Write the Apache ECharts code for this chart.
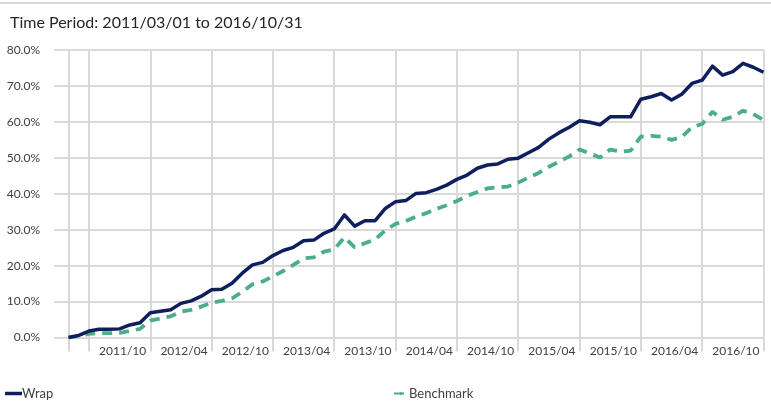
<!DOCTYPE html>
<html>
<head>
<meta charset="utf-8">
<script src="https://cdn.jsdelivr.net/npm/echarts@6/dist/echarts.min.js"></script>
<style>
  html, body { margin: 0; padding: 0; background: #fff; }
  #chart { width: 771px; height: 401px; }
</style>
</head>
<body>
<div id="chart"></div>
<script>
// month-end points, 2011/02 (base) .. 2016/10
const months = [];
for (let y = 2011, m = 2; y < 2016 || (y === 2016 && m <= 10); m++) {
  if (m > 12) { m = 1; y++; }
  if (y === 2016 && m > 10) break;
  months.push(y + '/' + String(m).padStart(2, '0'));
}

const wrap = [
  0.0, 0.6, 1.8, 2.3, 2.3, 2.4, 3.5, 4.1, 6.9, 7.3,
  7.7, 9.5, 10.2, 11.5, 13.3, 13.4, 15.1, 17.9, 20.2, 20.9,
  22.8, 24.2, 25.1, 26.9, 27.1, 29.0, 30.2, 34.1, 31.0, 32.5,
  32.5, 35.9, 37.8, 38.1, 40.1, 40.3, 41.2, 42.4, 44.0, 45.2,
  47.1, 48.0, 48.3, 49.6, 49.9, 51.4, 52.9, 55.2, 57.0, 58.5,
  60.3, 59.9, 59.2, 61.4, 61.4, 61.4, 66.3, 67.0, 67.9, 66.1,
  67.7, 70.7, 71.6, 75.5, 73.0, 74.0, 76.3, 75.2, 73.8
];

const benchmark = [
  0.0, 0.4, 1.0, 1.2, 1.2, 1.3, 1.8, 2.4, 4.7, 5.3,
  5.9, 7.2, 7.7, 8.6, 9.7, 10.2, 10.9, 12.7, 14.8, 15.6,
  17.0, 18.5, 20.2, 22.0, 22.3, 23.9, 24.5, 27.9, 25.1, 26.2,
  27.3, 29.8, 31.6, 32.4, 33.6, 34.6, 35.8, 36.8, 38.0, 39.4,
  40.5, 41.5, 41.8, 42.0, 43.1, 44.5, 45.8, 47.5, 48.9, 50.4,
  52.3, 51.2, 50.1, 52.3, 51.7, 52.0, 55.9, 56.1, 55.9, 55.0,
  55.8, 58.5, 59.4, 62.8, 60.6, 61.4, 63.1, 62.2, 60.5
];

const title = 'Time Period: 2011/03/01 to 2016/10/31';
const FONT = 'Lato';
const GRID_COLOR = '#d9d9d9';

// gridlines at the base point and every 6 months from 2011/04
const isTick = i => i === 0 || (i - 2) % 6 === 0;
const isLabel = i => i >= 8 && (i - 2) % 6 === 0;

const chart = echarts.init(document.getElementById('chart'));

const option = {
  animation: false,
  textStyle: { fontFamily: FONT },
  title: {
    text: title,
    left: 5,
    top: 10,
    textStyle: { fontSize: 16, fontWeight: 'normal', color: '#262626', fontFamily: FONT }
  },
  graphic: [{
    type: 'line',
    shape: { x1: 0, y1: 3, x2: 771, y2: 3 },
    style: { stroke: GRID_COLOR, lineWidth: 2 }
  }],
  legend: [
    {
      data: [{ name: 'Wrap', icon: 'rect' }],
      left: 0, top: 382,
      itemWidth: 17, itemHeight: 3.5,
      textStyle: { fontSize: 13, color: '#404040', padding: [0, 0, 0, -5] }
    },
    {
      data: ['Benchmark'],
      left: 388, top: 382,
      itemWidth: 14, itemHeight: 4,
      textStyle: { fontSize: 13, color: '#404040', padding: [0, 0, 0, -4] }
    }
  ],
  grid: [
    { left: 54, right: 7, top: 50, bottom: 63.5 },
    { left: 68.5, right: 7.5, top: 50, bottom: 63.5 }
  ],
  xAxis: [
    { gridIndex: 0, type: 'category', data: months, show: false },
    {
      gridIndex: 1,
      type: 'category',
      data: months,
      boundaryGap: false,
      axisLine: { show: false },
      axisTick: {
        show: true, interval: isTick, length: 14,
        lineStyle: { color: GRID_COLOR, width: 2 }
      },
      splitLine: {
        show: true, interval: isTick,
        lineStyle: { color: GRID_COLOR, width: 2 }
      },
      axisLabel: {
        interval: isLabel,
        align: 'right',
        margin: 8,
        padding: [0, 4, 0, 0],
        fontSize: 12,
        color: '#404040',
        fontFamily: FONT
      }
    }
  ],
  yAxis: [
    {
      gridIndex: 0,
      type: 'value',
      min: 0, max: 80, interval: 10,
      axisLine: { show: false },
      axisTick: { show: false },
      axisLabel: {
        margin: 14, fontSize: 12, color: '#404040', fontFamily: FONT,
        formatter: v => v.toFixed(1) + '%'
      },
      splitLine: { lineStyle: { color: GRID_COLOR, width: 2 } }
    },
    {
      gridIndex: 1,
      type: 'value',
      min: 0, max: 80, interval: 10,
      show: false,
      splitLine: { show: false }
    }
  ],
  series: [
    {
      name: 'Wrap',
      type: 'line',
      xAxisIndex: 1, yAxisIndex: 1,
      data: wrap,
      symbol: 'none',
      lineStyle: { color: '#0f1f5e', width: 3.5, join: 'round' },
      itemStyle: { color: '#0f1f5e' },
      z: 3
    },
    {
      name: 'Benchmark',
      type: 'line',
      xAxisIndex: 1, yAxisIndex: 1,
      data: benchmark,
      symbol: 'none',
      lineStyle: { color: '#4bae8b', width: 3.8, type: [10, 7], cap: 'butt' },
      itemStyle: { color: '#4bae8b' },
      z: 2
    }
  ]
};

chart.setOption(option);
</script>
</body>
</html>
